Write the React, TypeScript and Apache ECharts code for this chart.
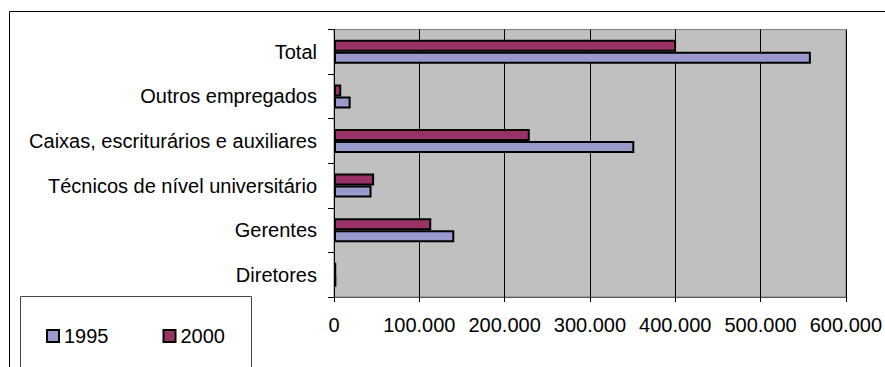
import React, { useEffect, useRef } from "react";
import * as echarts from "echarts";

// Categories listed bottom → top as they appear on the vertical axis
const categories = [
  "Diretores",
  "Gerentes",
  "Técnicos de nível universitário",
  "Caixas, escriturários e auxiliares",
  "Outros empregados",
  "Total",
];

const values1995 = [2800, 141000, 44000, 352000, 19500, 559000];
const values2000 = [2600, 114000, 47000, 229500, 8500, 401000];

const xTicks = { min: 0, max: 600000, interval: 100000 };

const FONT = "'Liberation Sans', Arial, sans-serif";

const fmt = (v: number) =>
  String(Math.round(v)).replace(/\B(?=(\d{3})+(?!\d))/g, ".");

export default function App() {
  const ref = useRef<HTMLDivElement>(null);

  useEffect(() => {
    if (!ref.current) return;
    const chart = echarts.init(ref.current, undefined, { renderer: "svg" });
    const barBorder = { borderColor: "#000", borderWidth: 2 };
    chart.setOption({
      animation: false,
      backgroundColor: "#fff",
      textStyle: { fontFamily: FONT },
      graphic: [
        {
          type: "rect",
          shape: { x: 9.5, y: 11.5, width: 900, height: 400 },
          style: { fill: "none", stroke: "#000", lineWidth: 1 },
          z: -1,
        },
        {
          type: "rect",
          shape: { x: 20.5, y: 296.5, width: 231, height: 100 },
          style: { fill: "#fff", stroke: "#444", lineWidth: 1 },
          z: 0,
        },
      ],
      grid: {
        show: true,
        left: 334,
        right: 36,
        top: 29.5,
        bottom: 70,
        backgroundColor: "#C0C0C0",
        borderColor: "#808080",
        borderWidth: 1,
      },
      legend: {
        data: ["1995", "2000"],
        left: 41,
        top: 321,
        itemWidth: 12,
        itemHeight: 12,
        itemGap: 54,
        icon: "rect",
        textStyle: { fontSize: 20, color: "#000", fontFamily: FONT },
        z: 5,
      },
      xAxis: {
        type: "value",
        min: xTicks.min,
        max: xTicks.max,
        interval: xTicks.interval,
        axisLine: { show: true, lineStyle: { color: "#555", width: 1 } },
        axisTick: { show: true, length: 5, lineStyle: { color: "#000" } },
        splitLine: { show: true, lineStyle: { color: "#000", width: 1 } },
        axisLabel: {
          fontSize: 20,
          color: "#000",
          margin: 18,
          fontFamily: FONT,
          formatter: (v: number) => fmt(v),
        },
      },
      yAxis: {
        type: "category",
        data: categories,
        axisLine: { show: true, lineStyle: { color: "#000", width: 1 } },
        axisTick: { show: true, length: 6, lineStyle: { color: "#000" } },
        axisLabel: { fontSize: 20, color: "#000", margin: 17, fontFamily: FONT },
      },
      series: [
        {
          name: "2000",
          type: "bar",
          data: values2000,
          barWidth: 12,
          barGap: "0%",
          itemStyle: { color: "#993366", ...barBorder },
        },
        {
          name: "1995",
          type: "bar",
          data: values1995,
          barWidth: 12,
          barGap: "0%",
          itemStyle: { color: "#9999CC", ...barBorder },
        },
      ],
    });
    return () => chart.dispose();
  }, []);

  return (
    <div
      ref={ref}
      style={{ position: "fixed", left: 0, top: 0, width: 885, height: 367 }}
    />
  );
}
